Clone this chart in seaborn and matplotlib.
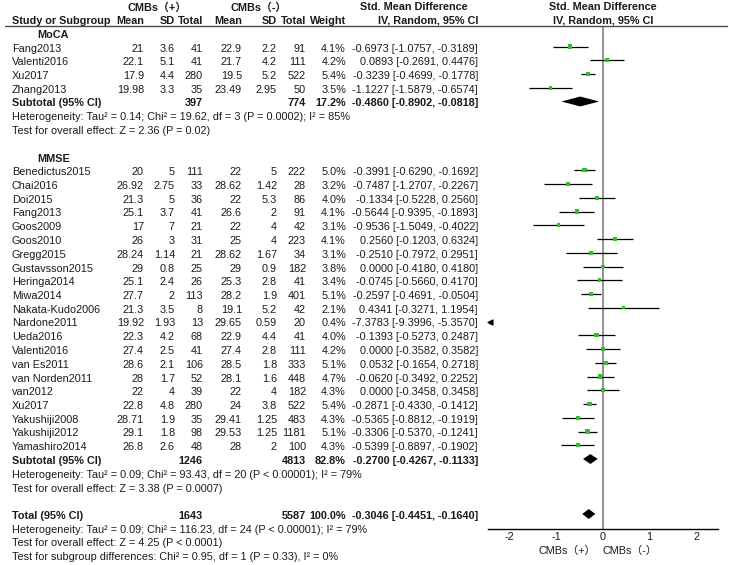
import numpy as np
import pandas as pd
import matplotlib
matplotlib.use("Agg")
import matplotlib.pyplot as plt
import seaborn as sns

sns.set_theme(style="white")
plt.rcParams['font.family'] = ['Liberation Sans', 'Noto Sans CJK SC', 'DejaVu Sans']
plt.rcParams['axes.unicode_minus'] = False

# ---- data: MoCA subgroup ----
moca_study = ["Fang2013", "Valenti2016", "Xu2017", "Zhang2013"]
moca_m1 = [21, 22.1, 17.9, 19.98]
moca_sd1 = [3.6, 5.1, 4.4, 3.3]
moca_n1 = [41, 41, 280, 35]
moca_m2 = [22.9, 21.7, 19.5, 23.49]
moca_sd2 = [2.2, 4.2, 5.2, 2.95]
moca_n2 = [91, 111, 522, 50]
moca_w = [4.1, 4.2, 5.4, 3.5]
moca_smd = [-0.6973, 0.0893, -0.3239, -1.1227]
moca_lo = [-1.0757, -0.2691, -0.4699, -1.5879]
moca_hi = [-0.3189, 0.4476, -0.1778, -0.6574]

# ---- data: MMSE subgroup ----
mmse_study = ["Benedictus2015", "Chai2016", "Doi2015", "Fang2013", "Goos2009", "Goos2010",
              "Gregg2015", "Gustavsson2015", "Heringa2014", "Miwa2014", "Nakata-Kudo2006",
              "Nardone2011", "Ueda2016", "Valenti2016", "van Es2011", "van Norden2011",
              "van2012", "Xu2017", "Yakushiji2008", "Yakushiji2012", "Yamashiro2014"]
mmse_m1 = [20, 26.92, 21.3, 25.1, 17, 26, 28.24, 29, 25.1, 27.7, 21.3, 19.92, 22.3, 27.4,
           28.6, 28, 22, 22.8, 28.71, 29.1, 26.8]
mmse_sd1 = [5, 2.75, 5, 3.7, 7, 3, 1.14, 0.8, 2.4, 2, 3.5, 1.93, 4.2, 2.5, 2.1, 1.7, 4, 4.8,
            1.9, 1.8, 2.6]
mmse_n1 = [111, 33, 36, 41, 21, 31, 21, 25, 26, 113, 8, 13, 68, 41, 106, 52, 39, 280, 35, 98, 48]
mmse_m2 = [22, 28.62, 22, 26.6, 22, 25, 28.62, 29, 25.3, 28.2, 19.1, 29.65, 22.9, 27.4, 28.5,
           28.1, 22, 24, 29.41, 29.53, 28]
mmse_sd2 = [5, 1.42, 5.3, 2, 4, 4, 1.67, 0.9, 2.8, 1.9, 5.2, 0.59, 4.4, 2.8, 1.8, 1.6, 4, 3.8,
            1.25, 1.25, 2]
mmse_n2 = [222, 28, 86, 91, 42, 223, 34, 182, 41, 401, 42, 20, 41, 111, 333, 448, 182, 522,
           483, 1181, 100]
mmse_w = [5.0, 3.2, 4.0, 4.1, 3.1, 4.1, 3.1, 3.8, 3.4, 5.1, 2.1, 0.4, 4.0, 4.2, 5.1, 4.7, 4.3,
          5.4, 4.3, 5.1, 4.3]
mmse_smd = [-0.3991, -0.7487, -0.1334, -0.5644, -0.9536, 0.2560, -0.2510, 0.0000, -0.0745,
            -0.2597, 0.4341, -7.3783, -0.1393, 0.0000, 0.0532, -0.0620, 0.0000, -0.2871,
            -0.5365, -0.3306, -0.5399]
mmse_lo = [-0.6290, -1.2707, -0.5228, -0.9395, -1.5049, -0.1203, -0.7972, -0.4180, -0.5660,
           -0.4691, -0.3271, -9.3996, -0.5273, -0.3582, -0.1654, -0.3492, -0.3458, -0.4330,
           -0.8812, -0.5370, -0.8897]
mmse_hi = [-0.1692, -0.2267, 0.2560, -0.1893, -0.4022, 0.6324, 0.2951, 0.4180, 0.4170,
           -0.0504, 1.1954, -5.3570, 0.2487, 0.3582, 0.2718, 0.2252, 0.3458, -0.1412,
           -0.1919, -0.1241, -0.1902]

# ---- pooled results: MoCA subtotal, MMSE subtotal, total ----
pool_label = ["Subtotal (95% CI)", "Subtotal (95% CI)", "Total (95% CI)"]
pool_n1 = [397, 1246, 1643]
pool_n2 = [774, 4813, 5587]
pool_w = [17.2, 82.8, 100.0]
pool_smd = [-0.4860, -0.2700, -0.3046]
pool_lo = [-0.8902, -0.4267, -0.4451]
pool_hi = [-0.0818, -0.1133, -0.1640]
pool_het = ["Heterogeneity: Tau\u00b2 = 0.14; Chi\u00b2 = 19.62, df = 3 (P = 0.0002); I\u00b2 = 85%",
            "Heterogeneity: Tau\u00b2 = 0.09; Chi\u00b2 = 93.43, df = 20 (P < 0.00001); I\u00b2 = 79%",
            "Heterogeneity: Tau\u00b2 = 0.09; Chi\u00b2 = 116.23, df = 24 (P < 0.00001); I\u00b2 = 79%"]
pool_z = ["Test for overall effect: Z = 2.36 (P = 0.02)",
          "Test for overall effect: Z = 3.38 (P = 0.0007)",
          "Test for overall effect: Z = 4.25 (P < 0.0001)"]
subgroup_test = "Test for subgroup differences: Chi\u00b2 = 0.95, df = 1 (P = 0.33), I\u00b2 = 0%"

# study table with row index (row 0 = first study line)
moca = pd.DataFrame(dict(study=moca_study, m1=moca_m1, sd1=moca_sd1, n1=moca_n1, m2=moca_m2,
                         sd2=moca_sd2, n2=moca_n2, w=moca_w, smd=moca_smd, lo=moca_lo, hi=moca_hi))
mmse = pd.DataFrame(dict(study=mmse_study, m1=mmse_m1, sd1=mmse_sd1, n1=mmse_n1, m2=mmse_m2,
                         sd2=mmse_sd2, n2=mmse_n2, w=mmse_w, smd=mmse_smd, lo=mmse_lo, hi=mmse_hi))
moca["row"] = np.arange(len(moca))
mmse["row"] = np.arange(len(mmse)) + len(moca) + 5
df = pd.concat([moca, mmse], ignore_index=True)

pool_row = [len(moca), mmse["row"].max() + 1, mmse["row"].max() + 5]
group_rows = [("MoCA", -1), ("MMSE", len(moca) + 4)]

# layout (pixels)
W, H = 729, 565
Y0, DY = 46.5, 13.75
def ypx(k):
    return Y0 + DY * k

x_name, x_m1, x_sd1, x_n1 = 12, 144, 175, 203
x_m2, x_sd2, x_n2, x_w, x_ci = 242, 277, 306, 346, 478
FS = 7.8
TXT = '#1a1a1a'

fig = plt.figure(figsize=(W / 100, H / 100), dpi=100, facecolor='white')

# forest panel
top_px, axis_px, left_px, right_px, zero_px, unit_px = 26, 529, 488, 718, 603, 46.7
ax = fig.add_axes([left_px / W, 1 - axis_px / H, (right_px - left_px) / W, (axis_px - top_px) / H])
ax.set_xlim((left_px - zero_px) / unit_px, (right_px - zero_px) / unit_px)
ax.set_ylim((axis_px - Y0) / DY, (top_px - Y0) / DY)
ax.set_facecolor('none')
for s in ['left', 'top', 'right']:
    ax.spines[s].set_visible(False)
ax.spines['bottom'].set_color('black')
ax.spines['bottom'].set_linewidth(1.0)
ax.set_yticks([])
ax.set_xticks([-2, -1, 0, 1, 2])
ax.tick_params(axis='x', direction='in', length=4, width=0.9, pad=2, labelsize=FS,
               colors='black', labelcolor=TXT)
ax.axvline(0, color='#8a8a8a', lw=1.3, zorder=1)

xmin = ax.get_xlim()[0]
ax.hlines(df["row"], df["lo"], df["hi"], color='black', lw=0.9, zorder=2)
sns.scatterplot(data=df, x="smd", y="row", size="w", sizes=(2, 11), size_norm=(0.4, 5.4),
                marker='s', color='#33bb33', edgecolor='none', legend=False, ax=ax, zorder=3)
off = df[df["hi"] < xmin]
ax.scatter(np.full(len(off), xmin + 0.045), off["row"], marker='<', s=12, color='black',
           zorder=3, clip_on=False)
for r, lo, est, hi in zip(pool_row, pool_lo, pool_smd, pool_hi):
    h = 0.36
    ax.fill([lo, est, hi, est], [r, r - h, r, r + h], color='black', lw=0, zorder=3)
ax.set_xlabel('')
ax.set_ylabel('')

# table panel
tab = fig.add_axes([0, 0, 1, 1])
tab.set_xlim(0, W)
tab.set_ylim(H, 0)
tab.axis('off')

def put(x, y, s, ha='left', bold=False, color=TXT):
    tab.text(x, y, s, ha=ha, va='center', fontsize=FS, color=color,
             fontweight='bold' if bold else 'normal')

def row_text(k, s, x, ha='right', bold=False):
    put(x, ypx(k) + 2, s, ha=ha, bold=bold)

# headers
put(157, 7.5, "CMBs\uff08+\uff09", ha='center', bold=True)
put(259, 7.5, "CMBs\uff08-\uff09", ha='center', bold=True)
put(414, 7.5, "Std. Mean Difference", ha='center', bold=True)
put(zero_px, 7.5, "Std. Mean Difference", ha='center', bold=True)
for x, s, ha in [(x_name, "Study or Subgroup", 'left'), (x_m1, "Mean", 'right'),
                 (x_sd1, "SD", 'right'), (x_n1, "Total", 'right'), (x_m2, "Mean", 'right'),
                 (x_sd2, "SD", 'right'), (x_n2, "Total", 'right'), (x_w, "Weight", 'right'),
                 (x_ci, "IV, Random, 95% CI", 'right'), (zero_px, "IV, Random, 95% CI", 'center')]:
    put(x, 20.5, s, ha=ha, bold=True)
tab.plot([5, 727], [top_px, top_px], color='#4a4a4a', lw=1.0)

for name, k in group_rows:
    row_text(k, name, 37, ha='left', bold=True)

for _, r in df.iterrows():
    k = r["row"]
    row_text(k, r["study"], x_name, ha='left')
    row_text(k, f"{r['m1']:g}", x_m1)
    row_text(k, f"{r['sd1']:g}", x_sd1)
    row_text(k, f"{int(r['n1'])}", x_n1)
    row_text(k, f"{r['m2']:g}", x_m2)
    row_text(k, f"{r['sd2']:g}", x_sd2)
    row_text(k, f"{int(r['n2'])}", x_n2)
    row_text(k, f"{r['w']:.1f}%", x_w)
    row_text(k, f"{r['smd']:.4f} [{r['lo']:.4f}, {r['hi']:.4f}]", x_ci)

for i, k in enumerate(pool_row):
    row_text(k, pool_label[i], x_name, ha='left', bold=True)
    row_text(k, f"{pool_n1[i]}", x_n1, bold=True)
    row_text(k, f"{pool_n2[i]}", x_n2, bold=True)
    row_text(k, f"{pool_w[i]:.1f}%", x_w, bold=True)
    row_text(k, f"{pool_smd[i]:.4f} [{pool_lo[i]:.4f}, {pool_hi[i]:.4f}]", x_ci, bold=True)
    row_text(k + 1, pool_het[i], x_name, ha='left')
    row_text(k + 2, pool_z[i], x_name, ha='left')
row_text(pool_row[-1] + 3, subgroup_test, x_name, ha='left')

# favours labels under the axis
put(567, 551, "CMBs\uff08+\uff09", ha='center')
put(630, 551, "CMBs\uff08-\uff09", ha='center')

fig.savefig("out.png", dpi=100, facecolor='white')
